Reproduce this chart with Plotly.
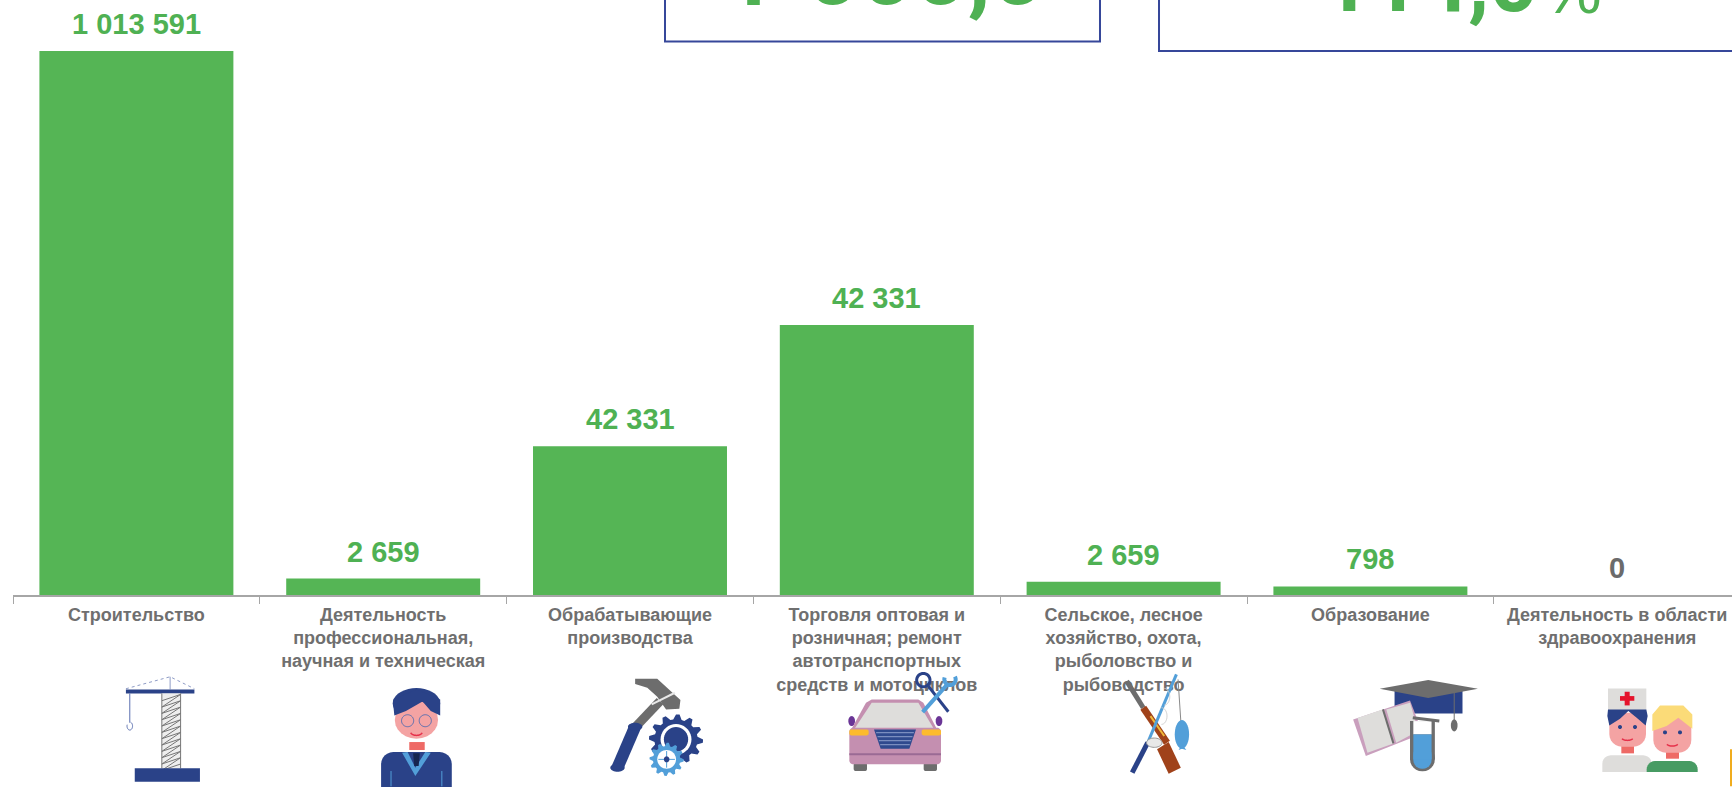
import math
import plotly.graph_objects as go

categories = ["Строительство", "Деятельность<br>профессиональная,<br>научная и техническая",
              "Обрабатывающие<br>производства",
              "Торговля оптовая и<br>розничная; ремонт<br>автотранспортных<br>средств и мотоциклов",
              "Сельское, лесное<br>хозяйство, охота,<br>рыболовство и<br>рыбоводство",
              "Образование", "Деятельность в области<br>здравоохранения"]
bar_values = [1013591, 30700, 277000, 503000, 24500, 16000, 0]
value_labels = ["1 013 591", "2 659", "42 331", "42 331", "2 659", "798", "0"]
label_colors = ["#4fb153"] * 6 + ["#6b6b6b"]

W, H = 1732, 787
L, BASE = 13, 595.5
CAT = 246.8
TOP = 1013591 * BASE / 544.5
NAVY, GREY, PINK, RED, BLUE, LG = "#2a4288", "#6d6d6d", "#f4a3a3", "#ee6a66", "#529fd9", "#dedddb"
shapes = []

def P(x, y):
    return (x - L) / (W - L), (BASE - y) / BASE

def add_path(pts, fill=None, line=None, lw=1, close=True, dash=None):
    s = ""
    for i, (x, y) in enumerate(pts):
        a, b = P(x, y)
        s += ("M" if i == 0 else "L") + f"{a:.5f},{b:.5f}"
    if close:
        s += "Z"
    shapes.append(dict(type="path", xref="paper", yref="paper", path=s, layer="above",
                       fillcolor=fill if fill else "rgba(0,0,0,0)",
                       line=dict(color=line if line else "rgba(0,0,0,0)", width=lw if line else 0,
                                 dash=dash or "solid")))

class Icon:
    def __init__(self, ox, oy, sx=3.0, sy=3.0):
        self.ox, self.oy, self.sx, self.sy = ox, oy, sx, sy
    def t(self, pts):
        return [(self.ox + x / self.sx, self.oy + y / self.sy) for x, y in pts]
    def poly(self, pts, fill):
        add_path(self.t(pts), fill=fill)
    def line(self, pts, color, lw=1, dash=None):
        add_path(self.t(pts), line=color, lw=lw, close=False, dash=dash)
    def rect(self, x0, y0, x1, y1, fill):
        self.poly([(x0, y0), (x1, y0), (x1, y1), (x0, y1)], fill)
    def ell(self, cx, cy, rx, ry, fill=None, line=None, lw=1, a0=0, a1=360):
        n = 36
        pts = [(cx + rx * math.cos(math.radians(a0 + (a1 - a0) * i / n)),
                cy + ry * math.sin(math.radians(a0 + (a1 - a0) * i / n))) for i in range(n + 1)]
        add_path(self.t(pts), fill=fill, line=line, lw=lw, close=(a1 - a0 == 360))
    def rrect(self, x0, y0, x1, y1, r, fill, ry=None):
        ry = ry or r
        pts = []
        for cx, cy, a in [(x1 - r, y0 + ry, -90), (x1 - r, y1 - ry, 0), (x0 + r, y1 - ry, 90), (x0 + r, y0 + ry, 180)]:
            for i in range(7):
                an = math.radians(a + 15 * i)
                pts.append((cx + r * math.cos(an), cy + ry * math.sin(an)))
        self.poly(pts, fill)
    def dome(self, x0, y0, x1, y1, r, fill, ry=None):
        ry = ry or r
        pts = [(x0, y1)]
        for cx, a in [(x0 + r, 180), (x1 - r, 270)]:
            for i in range(7):
                an = math.radians(a + 15 * i)
                pts.append((cx + r * math.cos(an), y0 + ry + ry * math.sin(an)))
        pts.append((x1, y1))
        self.poly(pts, fill)
    def gear(self, cx, cy, rx, ry, teeth, fill):
        pts = []
        for i in range(teeth * 4):
            an = 2 * math.pi * i / (teeth * 4)
            k = 1.0 if i % 4 in (0, 1) else 0.8
            pts.append((cx + rx * k * math.cos(an), cy + ry * k * math.sin(an)))
        self.poly(pts, fill)

# crane
c = Icon(0, 580, 1.8106, 3)
c.line([(228, 328), (308, 292), (352, 328)], "#8f9cc6", 1, "dot")
c.line([(308, 292), (308, 330)], "#8f9cc6", 1)
c.rect(228, 330, 352, 342, NAVY)
c.rect(293, 342, 327, 567, "#eeeeee")
c.line([(293, 342), (293, 567)], "#777777", 1)
c.line([(327, 342), (327, 567)], "#777777", 1)
zig = []
for k in range(12):
    yy = 345 + k * 19
    zig += [(293, yy + 19), (327, yy)]
c.line(zig, "#777777", 1)
c.rect(244, 567, 362, 607, NAVY)
c.line([(235, 342), (235, 430)], "#5a6fb0", 1)
c.ell(235, 440, 5, 12, line="#5a6fb0", lw=1, a0=-70, a1=200)

# person
c.dome(690, 518, 818, 640, 22, NAVY, 36)
c.rect(741, 488, 769, 512, RED)
c.poly([(728, 520), (752, 590), (780, 520), (770, 518), (752, 565), (738, 518)], BLUE)
c.poly([(748, 522), (760, 522), (758, 560), (750, 560)], "#16264f")
c.line([(708, 575), (708, 621)], BLUE, 1)
c.line([(800, 575), (800, 621)], BLUE, 1)
c.ell(754, 372, 43, 46, fill=NAVY)
c.rrect(715, 365, 793, 478, 39, PINK, 55)
c.poly([(712, 375), (714, 408), (735, 395), (765, 366), (780, 395), (797, 408), (797, 360), (754, 330), (712, 360)], NAVY)
c.ell(738, 424, 11, 18, line="#5a6fb0", lw=1)
c.ell(770, 424, 11, 18, line="#5a6fb0", lw=1)
c.ell(754, 456, 11, 12, line="#e6304a", lw=1.5, a0=20, a1=160)

# tools
c.line([(1195, 365), (1152, 440)], GREY, 9)
c.line([(1150, 442), (1118, 565)], NAVY, 12)
c.ell(1150, 442, 13, 12, fill=NAVY)
c.ell(1118, 565, 13, 12, fill=NAVY)
c.poly([(1150, 298), (1190, 298), (1232, 362), (1230, 388), (1206, 390), (1190, 352), (1172, 325), (1150, 314)], GREY)
c.line([(1180, 375), (1222, 340)], "#e8e8e8", 2)
c.gear(1224, 480, 49, 75, 12, NAVY)
c.ell(1224, 480, 28, 46, fill="#ffffff")
c.ell(1224, 480, 22, 37, fill=NAVY)
c.gear(1207, 540, 31, 50, 12, BLUE)
c.ell(1207, 540, 17, 28, fill="#ffffff")
c.line([(1192, 540), (1222, 540)], BLUE, 1)
c.line([(1207, 515), (1207, 565)], BLUE, 1)
c.ell(1207, 540, 5, 9, fill=NAVY)

# car
c = Icon(760, 590)
c.rrect(281, 520, 321, 545, 6, GREY)
c.rrect(491, 520, 531, 545, 6, GREY)
c.ell(275, 395, 10, 15, fill="#6a3596")
c.ell(537, 395, 10, 15, fill="#6a3596")
c.poly([(335, 330), (475, 330), (490, 340), (530, 418), (275, 418), (318, 340)], "#c48fb0")
c.poly([(335, 340), (475, 340), (520, 416), (285, 416)], LG)
c.rrect(268, 415, 543, 525, 12, "#c48fb0")
c.rrect(268, 420, 326, 438, 6, "#fdbb2d")
c.rrect(485, 420, 543, 438, 6, "#fdbb2d")
c.poly([(342, 420), (468, 420), (448, 478), (362, 478)], "#2f4a8e")
for yy in (430, 442, 454, 466):
    c.line([(345 + (yy - 420) * 0.34, yy), (465 - (yy - 420) * 0.34, yy)], "#8fa0cc", 1)
c.line([(268, 495), (543, 495)], "#9a6a94", 2)
c.line([(565, 367), (505, 290)], NAVY, 3)
c.ell(490, 272, 20, 20, line=NAVY, lw=3)
c.line([(488, 368), (562, 285)], BLUE, 4)
c.ell(570, 270, 17, 17, line=BLUE, lw=4, a0=-30, a1=200)

# rifle and fishing rod
c = Icon(866, 580, 1.8106, 3)
c.line([(565, 300), (570, 425)], "#8a8a8a", 1)
c.ell(572, 465, 13, 43, fill=BLUE)
c.poly([(572, 495), (566, 512), (572, 508), (580, 512)], BLUE)
c.line([(472, 305), (502, 385)], GREY, 5)
c.line([(502, 385), (545, 490)], "#a0421a", 7)
c.line([(515, 410), (540, 470)], "#f0b93a", 2)
c.poly([(527, 510), (548, 488), (570, 565), (548, 583)], "#a0421a")
c.line([(562, 285), (510, 490)], BLUE, 3)
c.line([(510, 490), (482, 580)], NAVY, 5)
c.ell(540, 352, 10, 25, line="#cfcfcf", lw=1, a0=-90, a1=90)
c.ell(535, 410, 10, 25, line="#cfcfcf", lw=1, a0=-90, a1=90)
c.ell(522, 490, 14, 14, fill="#e8e8e8", line="#999999", lw=1)

# education
c.rect(957, 335, 1080, 402, NAVY)
c.poly([(930, 328), (1018, 302), (1108, 328), (1018, 356)], GREY)
c.line([(1065, 340), (1065, 425)], GREY, 1)
c.ell(1065, 438, 6, 18, fill=GREY)
c.poly([(882, 420), (985, 363), (1008, 462), (905, 530)], "#c99fbd")
c.poly([(890, 416), (935, 390), (955, 492), (908, 520)], LG)
c.poly([(942, 390), (985, 370), (1000, 455), (960, 490)], LG)
c.line([(936, 390), (955, 492)], GREY, 2)
c.rrect(985, 500, 1030, 576, 22, GREY, 36)
c.rect(985, 425, 1030, 540, GREY)
c.rect(991, 425, 1024, 465, "#ffffff")
c.rrect(991, 500, 1024, 568, 16, BLUE, 26)
c.rect(991, 465, 1024, 540, BLUE)
c.line([(990, 415), (1038, 425)], GREY, 3)

# medics
c = Icon(1480, 540)
c.dome(367, 648, 515, 698, 25, LG)
c.rect(424, 620, 462, 642, RED)
c.rrect(388, 520, 498, 622, 38, PINK, 38)
c.rect(384, 447, 499, 512, LG)
c.rect(420, 470, 463, 484, "#e5132b")
c.rect(434, 457, 449, 498, "#e5132b")
c.poly([(384, 510), (499, 510), (503, 530), (497, 558), (470, 535), (445, 515), (420, 538), (388, 558), (382, 530)], NAVY)
c.ell(420, 563, 6, 6, fill=NAVY)
c.ell(465, 563, 6, 6, fill=NAVY)
c.ell(442, 595, 17, 8, line="#e6304a", lw=1.5, a0=20, a1=160)
c.dome(500, 665, 653, 698, 25, "#479b63")
c.rect(558, 638, 597, 658, RED)
c.rrect(520, 530, 634, 640, 38, PINK, 38)
c.poly([(517, 575), (517, 525), (540, 498), (610, 498), (637, 525), (637, 568), (595, 535), (560, 560)], "#fbdb78")
c.ell(555, 579, 6, 6, fill=NAVY)
c.ell(600, 579, 6, 6, fill=NAVY)
c.ell(577, 612, 17, 8, line="#e6304a", lw=1.5, a0=20, a1=160)
c.rect(750, 630, 756, 741, "#f0ac1e")

# top boxes
for pts in ([(665, -60), (665, 41.5), (1100, 41.5), (1100, -60)],
            [(1159, -60), (1159, 51), (1800, 51), (1800, -60)]):
    add_path(pts, line="#36479a", lw=2, close=False)

def ann(text, x, y, size, bold=True, color="#4fb153", family="Roboto"):
    a, b = P(x, y)
    return dict(text=f"<b>{text}</b>" if bold else text, xref="paper", yref="paper", x=a, y=b,
                xanchor="center", yanchor="middle", showarrow=False,
                font=dict(family=family, size=size, color=color))

annotations = [ann("+", 753, -20, 94), ann("000,0", 925, -28, 94), ann("114,0", 1430, -18, 85),
               ann("%", 1572, -10, 66, bold=False, family="Liberation Sans")]
for i, (v, t, col) in enumerate(zip(bar_values, value_labels, label_colors)):
    annotations.append(dict(x=i, y=v, xref="x", yref="y", text=f"<b>{t}</b>", showarrow=False,
                            yanchor="bottom", yshift=9,
                            font=dict(family="Liberation Sans", size=29, color=col)))

fig = go.Figure(go.Bar(x=list(range(7)), y=bar_values, width=0.786, marker=dict(color="#55b555", line_width=0),
                       hoverinfo="skip"))
fig.update_layout(width=W, height=H, margin=dict(l=L, r=0, t=0, b=H - BASE), plot_bgcolor="white",
                  paper_bgcolor="white", showlegend=False, shapes=shapes, annotations=annotations,
                  font=dict(family="Liberation Sans"))
fig.update_xaxes(range=[-0.5, -0.5 + (W - L) / CAT], tickmode="array", tickvals=list(range(7)),
                 ticktext=[f"<b>{t}</b>" for t in categories], ticks="", showgrid=False, zeroline=False, tickangle=0,
                 showline=True, linecolor="#a6a6a6", linewidth=2, ticklabelstandoff=2,
                 tickfont=dict(family="Liberation Sans", size=18, color="#6f6f6f"),
                 minor=dict(tickmode="array", tickvals=[i - 0.5 for i in range(7)], ticks="outside", ticklen=7,
                            tickcolor="#a6a6a6", tickwidth=1, showgrid=False))
fig.update_yaxes(range=[0, TOP], visible=False)
fig.write_html("out.html", config=dict(displayModeBar=False),
               post_script="document.body.style.margin='0';document.body.style.overflow='hidden';")
